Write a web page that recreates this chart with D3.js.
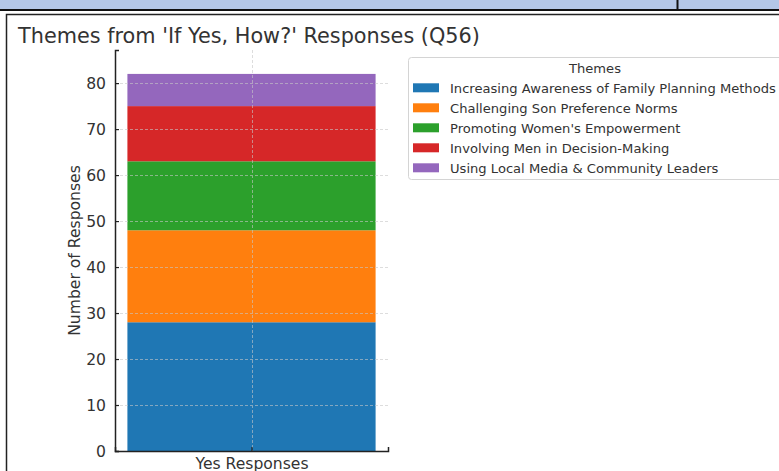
<!DOCTYPE html>
<html>
<head>
<meta charset="utf-8">
<script src="https://cdn.jsdelivr.net/npm/d3@7"></script>
<style>
  body { margin: 0; background: #fff; }
  svg { display: block; font-family: "DejaVu Sans", sans-serif; }
</style>
</head>
<body>
<div id="chart"></div>
<script>
// data
var category = ["Yes Responses"];
var themes = [
  "Increasing Awareness of Family Planning Methods",
  "Challenging Son Preference Norms",
  "Promoting Women's Empowerment",
  "Involving Men in Decision-Making",
  "Using Local Media & Community Leaders"
];
var counts = [28, 20, 15, 12, 7];
var colors = ["#1f77b4", "#ff7f0e", "#2ca02c", "#d62728", "#9467bd"];
var yTicks = [0, 10, 20, 30, 40, 50, 60, 70, 80];

var svg_dx = 779, svg_dy = 471;
var plot = { left: 115, right: 388, top: 50, bottom: 451 };

var svg = d3.select("#chart").append("svg")
  .attr("width", svg_dx)
  .attr("height", svg_dy);

// the spreadsheet-ish strip and frame around the chart
svg.append("rect").attr("x", 0).attr("y", 0).attr("width", svg_dx).attr("height", 9).attr("fill", "#b4c7e7");
svg.append("rect").attr("x", 0).attr("y", 9).attr("width", svg_dx).attr("height", 2).attr("fill", "#111");
svg.append("rect").attr("x", 676.5).attr("y", 0).attr("width", 2).attr("height", 9).attr("fill", "#111");
svg.append("rect")
  .attr("x", 6.5).attr("y", 14.5)
  .attr("width", svg_dx + 10).attr("height", svg_dy + 10)
  .attr("fill", "#fff")
  .attr("stroke", "#222")
  .attr("stroke-width", 1.5);

// title
svg.append("text")
  .attr("x", 18).attr("y", 43)
  .attr("font-size", 20.8)
  .attr("fill", "#333")
  .text("Themes from 'If Yes, How?' Responses (Q56)");

// scales: one bar of width 0.8 centred at 0, matplotlib-style margins
var x = d3.scaleLinear().domain([-0.44, 0.44]).range([plot.left, plot.right]);
var y = d3.scaleLinear().domain([0, 87.2]).range([plot.bottom, plot.top]);

// stack the themes on top of each other
var stacked = [];
var run = 0;
counts.forEach(function(c, i) {
  stacked.push({ theme: themes[i], y0: run, y1: run + c, color: colors[i] });
  run += c;
});

svg.append("g")
  .selectAll("rect")
  .data(stacked)
  .enter()
  .append("rect")
  .attr("x", x(-0.4))
  .attr("width", x(0.4) - x(-0.4))
  .attr("y", d => y(d.y1))
  .attr("height", d => y(d.y0) - y(d.y1))
  .attr("fill", d => d.color);

// grid drawn over the bars, faint
var grid = svg.append("g")
  .attr("stroke", "#c8c8c8")
  .attr("stroke-dasharray", "3,2")
  .attr("stroke-width", 1)
  .attr("opacity", 0.6);
grid.selectAll("line.h")
  .data(yTicks)
  .enter()
  .append("line")
  .attr("class", "h")
  .attr("x1", plot.left).attr("x2", plot.right)
  .attr("y1", d => Math.round(y(d)) + 0.5)
  .attr("y2", d => Math.round(y(d)) + 0.5);
grid.append("line")
  .attr("x1", Math.round(x(0)) + 0.5).attr("x2", Math.round(x(0)) + 0.5)
  .attr("y1", plot.top).attr("y2", plot.bottom);

// axes
var yAxis = d3.axisLeft(y).tickValues(yTicks).tickSize(-4).tickPadding(9);
var xAxis = d3.axisBottom(x).tickValues([0]).tickFormat(() => category[0]).tickSize(-4).tickPadding(7);

var gy = svg.append("g")
  .attr("transform", "translate(" + plot.left + ",0)")
  .call(yAxis);
var gx = svg.append("g")
  .attr("transform", "translate(0," + plot.bottom + ")")
  .call(xAxis);

[gx, gy].forEach(function(g) {
  g.select(".domain").attr("stroke", "#222").attr("stroke-width", 1.5);
  g.selectAll(".tick line").attr("stroke", "#222").attr("stroke-width", 1.2);
  g.selectAll(".tick text")
    .attr("font-size", 15.6)
    .attr("fill", "#333")
    .attr("font-family", "DejaVu Sans");
});

// y axis label
svg.append("text")
  .attr("transform", "translate(80," + ((plot.top + plot.bottom) / 2) + ") rotate(-90)")
  .attr("text-anchor", "middle")
  .attr("font-size", 15.6)
  .attr("fill", "#333")
  .text("Number of Responses");

// legend
var legend = svg.append("g");
legend.append("rect")
  .attr("x", 408.5).attr("y", 57.5)
  .attr("width", 380).attr("height", 122)
  .attr("rx", 3)
  .attr("fill", "#fff")
  .attr("fill-opacity", 0.8)
  .attr("stroke", "#d4d4d4");
legend.append("text")
  .attr("x", 595).attr("y", 73)
  .attr("text-anchor", "middle")
  .attr("font-size", 13.1)
  .attr("fill", "#333")
  .text("Themes");

var items = legend.selectAll("g.item")
  .data(stacked)
  .enter()
  .append("g")
  .attr("class", "item")
  .attr("transform", (d, i) => "translate(0," + (87.8 + i * 20) + ")");
items.append("rect")
  .attr("x", 413).attr("y", -4.5)
  .attr("width", 26).attr("height", 9)
  .attr("fill", d => d.color);
items.append("text")
  .attr("x", 450).attr("y", 5)
  .attr("font-size", 13.1)
  .attr("fill", "#333")
  .text(d => d.theme);
</script>
</body>
</html>
